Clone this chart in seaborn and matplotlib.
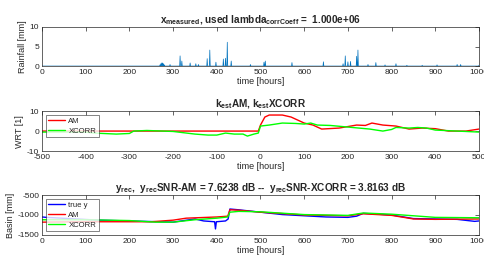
import numpy as np
import pandas as pd
import matplotlib
matplotlib.use("Agg")
import matplotlib.pyplot as plt
import seaborn as sns

# rainfall spikes (hour, mm)
rain_hours = [270, 272, 274, 276, 278, 280, 293, 316, 320, 339, 352, 358, 378, 384, 398,
              415, 420, 424, 433, 477, 508, 511, 572, 644, 689, 694, 700, 706, 720, 723,
              746, 764, 785, 810, 835, 870, 904, 950, 958, 1000]
rain_vals = [0.3, 0.6, 0.8, 0.8, 0.6, 0.3, 0.4, 2.6, 1.3, 0.8, 0.6, 0.4, 1.9, 4.1, 1.0,
             1.8, 2.0, 6.1, 1.3, 0.4, 1.0, 1.3, 0.9, 1.1, 0.6, 2.6, 1.1, 1.2, 2.5, 4.1,
             0.4, 0.9, 0.3, 0.6, 0.2, 0.2, 0.3, 0.4, 0.4, 0.2]

# WRT estimates
lag_am = [-500, -5, 0, 10, 20, 50, 70, 100, 120, 140, 180, 220, 240, 255, 280, 310, 340, 370, 400, 430, 470, 500]
wrt_am = [0, 0, 3, 7, 8, 8, 7, 4, 3, 1, 1.5, 3, 2.8, 4, 3, 2.5, 1, 1.5, 1.2, 0, 0, 1]
lag_xc = [-500, -400, -380, -330, -300, -290, -260, -200, -150, -120, -100, -80, -60, -40,
          -30, -15, -5, 0, 20, 50, 80, 100, 115, 130, 160, 200, 250, 280, 300, 310, 340,
          360, 380, 400, 450, 500]
wrt_xc = [-0.5, -0.5, -1, -1.5, -1.2, 0, 0.3, -0.2, -1.5, -2, -2, -1, -1.5, -1.5,
          -2.5, -1.5, -1, 2.5, 3, 4, 3.8, 3.5, 4, 3, 2.8, 2, 1, 0, 0.8, 1.8, 1.5,
          1.8, 1.5, 0.5, 0, -0.5]

# basin reconstructions
t_true = [0, 10, 130, 200, 300, 350, 370, 395, 397, 399, 420, 426, 430, 450, 500, 550, 600,
          650, 700, 720, 735, 800, 850, 900, 950, 990, 1000]
y_true = [-1050, -1060, -1130, -1150, -1180, -1100, -1150, -1170, -1350, -1170, -1150, -1100,
          -850, -870, -930, -990, -1020, -1050, -1060, -1030, -960, -1000, -1090, -1100,
          -1110, -1160, -1150]
t_am = [0, 100, 250, 300, 330, 400, 425, 430, 450, 500, 600, 700, 735, 800, 850, 900, 1000]
y_am = [-1180, -1170, -1170, -1130, -1080, -1050, -1030, -870, -880, -930, -1000, -1020,
        -970, -1010, -1100, -1110, -1100]
t_xc = [0, 100, 200, 260, 300, 350, 400, 425, 430, 450, 500, 600, 700, 735, 800, 900, 1000]
y_xc = [-1120, -1120, -1140, -1180, -1180, -1120, -1080, -1050, -930, -910, -920, -990,
        -1010, -950, -980, -1060, -1070]

sns.set_style("white")
plt.rcParams["font.family"] = ["Liberation Sans", "DejaVu Sans"]
plt.rcParams.update({
    "mathtext.fontset": "custom",
    "mathtext.rm": "Liberation Sans",
    "mathtext.bf": "Liberation Sans:bold",
    "mathtext.it": "Liberation Sans:italic",
    "mathtext.default": "bf",
    "axes.unicode_minus": False,
    "font.size": 6.5,
    "axes.labelsize": 6.5,
    "axes.labelcolor": "#262626",
    "axes.edgecolor": "#262626",
    "axes.linewidth": 0.5,
    "xtick.direction": "in",
    "ytick.direction": "in",
    "xtick.top": True,
    "ytick.right": True,
    "xtick.major.size": 3,
    "ytick.major.size": 3,
    "xtick.major.width": 0.5,
    "ytick.major.width": 0.5,
    "xtick.major.pad": 2,
    "ytick.major.pad": 2,
    "xtick.color": "#262626",
    "ytick.color": "#262626",
    "xtick.labelsize": 6,
    "ytick.labelsize": 6,
})

rain = np.zeros(1001)
rain[rain_hours] = rain_vals
df_rain = pd.DataFrame({"t": np.arange(1001), "rain": rain})

fig = plt.figure(figsize=(4.85, 2.57), dpi=100)
ax1 = fig.add_axes([0.0866, 0.743, 0.901, 0.152])
ax2 = fig.add_axes([0.0866, 0.412, 0.901, 0.156])
ax3 = fig.add_axes([0.0866, 0.086, 0.901, 0.155])

legend_kw = dict(loc="upper left", fontsize=5.6, frameon=True, fancybox=False,
                 edgecolor="#262626", handlelength=2.2, borderpad=0.3,
                 labelspacing=0.35, handletextpad=0.4, borderaxespad=0.5)

sns.lineplot(data=df_rain, x="t", y="rain", ax=ax1, color="#0072BD", linewidth=0.5)
ax1.set_xlim(0, 1000)
ax1.set_ylim(0, 10)
ax1.set_xticks(range(0, 1001, 100))
ax1.set_yticks([0, 5, 10])
ax1.set_ylabel("Rainfall [mm]", labelpad=2)
ax1.set_xlabel("time [hours]", labelpad=1)
ax1.set_title(r"$x_{measured}$, used lambda$_{corrCoeff}$ =  1.000e+06",
              fontsize=7.2, fontweight="bold", pad=3)

sns.lineplot(x=lag_am, y=wrt_am, ax=ax2, color="red", linewidth=1, label="AM")
sns.lineplot(x=lag_xc, y=wrt_xc, ax=ax2, color="#00FF00", linewidth=1, label="XCORR")
ax2.set_xlim(-500, 500)
ax2.set_ylim(-10, 10)
ax2.set_xticks(range(-500, 501, 100))
ax2.set_yticks([-10, 0, 10])
ax2.set_ylabel("WRT [1]", labelpad=2)
ax2.set_xlabel("time [hours]", labelpad=1)
ax2.set_title(r"$k_{est}$AM, $k_{est}$XCORR", fontsize=7.2, fontweight="bold", pad=3)
ax2.legend(**legend_kw).get_frame().set_linewidth(0.5)

sns.lineplot(x=t_true, y=y_true, ax=ax3, color="blue", linewidth=1, label="true y")
sns.lineplot(x=t_am, y=y_am, ax=ax3, color="red", linewidth=1, label="AM")
sns.lineplot(x=t_xc, y=y_xc, ax=ax3, color="#00FF00", linewidth=1, label="XCORR")
ax3.set_xlim(0, 1000)
ax3.set_ylim(-1500, -500)
ax3.set_xticks(range(0, 1001, 100))
ax3.set_yticks([-1500, -1000, -500])
ax3.set_ylabel("Basin [mm]", labelpad=2)
ax3.set_xlabel("time [hours]", labelpad=1)
ax3.set_title(r"$y_{rec}$,  $y_{rec}$SNR-AM = 7.6238 dB --  $y_{rec}$SNR-XCORR = 3.8163 dB",
              fontsize=7.2, fontweight="bold", pad=3)
ax3.legend(**legend_kw).get_frame().set_linewidth(0.5)

fig.savefig("out.png", dpi=100)
